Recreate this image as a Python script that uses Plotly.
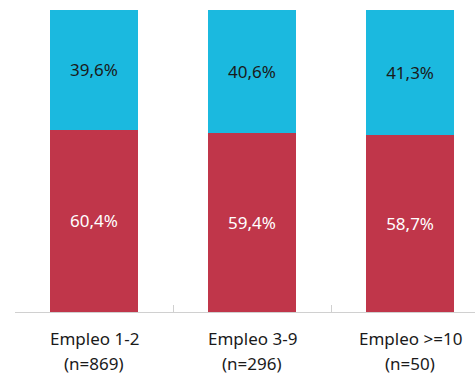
import plotly.graph_objects as go

categories = ["Empleo 1-2", "Empleo 3-9", "Empleo >=10"]
sample_sizes = ["(n=869)", "(n=296)", "(n=50)"]
bottom_values = [60.4, 59.4, 58.7]
top_values = [39.6, 40.6, 41.3]

RED = "#C0364A"
CYAN = "#1BB9DF"
FONT = "Noto Sans"

def fmt(v):
    return f"{v:.1f}".replace(".", ",") + "%"

fig = go.Figure()
fig.add_trace(go.Bar(
    x=categories, y=bottom_values, marker=dict(color=RED, line=dict(width=0)),
    width=0.557, text=[fmt(v) for v in bottom_values], textposition="inside",
    insidetextanchor="middle", textangle=0,
    textfont=dict(family=FONT, size=17, color="white"), hoverinfo="skip",
))
fig.add_trace(go.Bar(
    x=categories, y=top_values, marker=dict(color=CYAN, line=dict(width=0)),
    width=0.557, text=[fmt(v) for v in top_values], textposition="inside",
    insidetextanchor="middle", textangle=0,
    textfont=dict(family=FONT, size=17, color="#1a1a1a"), hoverinfo="skip",
))

annotations = []
for c, n in zip(categories, sample_sizes):
    annotations.append(dict(x=c, xref="x", yref="paper", y=-0.089, text=c,
                            showarrow=False, yanchor="middle",
                            font=dict(family=FONT, size=17, color="#1a1a1a")))
    annotations.append(dict(x=c, xref="x", yref="paper", y=-0.172, text=n,
                            showarrow=False, yanchor="middle",
                            font=dict(family=FONT, size=17, color="#1a1a1a")))

fig.update_layout(
    barmode="stack", width=475, height=376,
    margin=dict(l=15, r=0, t=10, b=64),
    paper_bgcolor="white", plot_bgcolor="white",
    showlegend=False, bargap=0, annotations=annotations,
    uniformtext=dict(mode=False),
)
fig.update_xaxes(range=[-0.5, 2.411], showline=True, linecolor="#D0D0D0", linewidth=1,
                 ticks="inside", tickson="boundaries", ticklen=7, tickcolor="#D0D0D0",
                 showticklabels=False, showgrid=False, zeroline=False, fixedrange=True)
fig.update_yaxes(range=[0, 100], visible=False, showgrid=False, zeroline=False)

fig.write_html("out.html", config={"displayModeBar": False, "staticPlot": True},
               post_script="document.body.style.margin='0';document.body.style.overflow='hidden';")
